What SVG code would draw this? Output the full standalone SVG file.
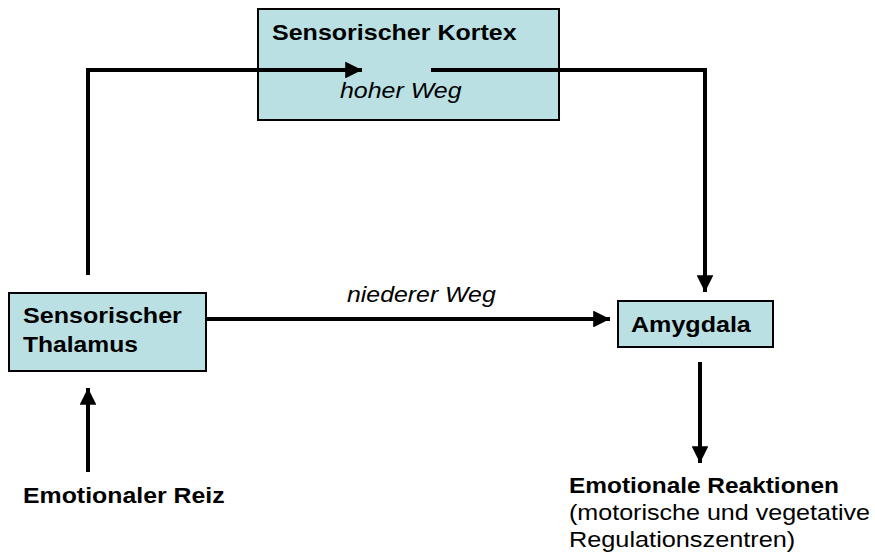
<svg xmlns="http://www.w3.org/2000/svg" width="875" height="556" viewBox="0 0 875 556">
<style>
.box{fill:#bae0e3;stroke:#000;stroke-width:2}
.b{font-family:"Liberation Sans",Arial,sans-serif;font-size:22px;font-weight:bold;fill:#000}
.i{font-family:"Liberation Sans",Arial,sans-serif;font-size:22px;font-style:italic;fill:#000}
.n{font-family:"Liberation Sans",Arial,sans-serif;font-size:22px;fill:#000}
.c{fill:none;stroke:#000;stroke-width:4}
</style>
<defs>
<marker id="ah" viewBox="0 0 10 10" refX="10" refY="5" markerWidth="4.2" markerHeight="4.2" orient="auto" markerUnits="strokeWidth">
<path d="M0,0 L10,5 L0,10 z" fill="#000"/>
</marker>
</defs>
<rect width="875" height="556" fill="#fff"/>
<g id="kortex">
<rect class="box" x="258" y="9" width="301" height="111"/>
<text class="b" transform="translate(272,40) scale(1.138,1)">Sensorischer Kortex</text>
</g>
<g id="thalamus">
<rect class="box" x="9" y="293" width="197" height="78"/>
<text class="b" transform="translate(23,323) scale(1.14,1)">Sensorischer</text>
<text class="b" transform="translate(23,352) scale(1.12,1)">Thalamus</text>
</g>
<g id="amygdala">
<rect class="box" x="618" y="301" width="155" height="46"/>
<text class="b" transform="translate(631,332) scale(1.14,1)">Amygdala</text>
</g>
<g id="reiz">
<text class="b" transform="translate(23,503) scale(1.13,1)">Emotionaler Reiz</text>
</g>
<g id="reaktionen">
<text class="b" transform="translate(569,493) scale(1.11,1)">Emotionale Reaktionen</text>
<text class="n" transform="translate(569,520) scale(1.14,1)">(motorische und vegetative</text>
<text class="n" transform="translate(569,547) scale(1.15,1)">Regulationszentren)</text>
</g>
<g id="connectors">
<path class="c" d="M88,275 L88,70 L362,70" marker-end="url(#ah)"/>
<text class="i" transform="translate(340,98) scale(1.134,1)">hoher Weg</text>
<path class="c" d="M431,70 L705,70 L705,292" marker-end="url(#ah)"/>
<path class="c" d="M206,319 L610,319" marker-end="url(#ah)"/>
<text class="i" transform="translate(347,302) scale(1.13,1)">niederer Weg</text>
<path class="c" d="M88,472 L88,388" marker-end="url(#ah)"/>
<path class="c" d="M700,362 L700,463" marker-end="url(#ah)"/>
</g>
</svg>
